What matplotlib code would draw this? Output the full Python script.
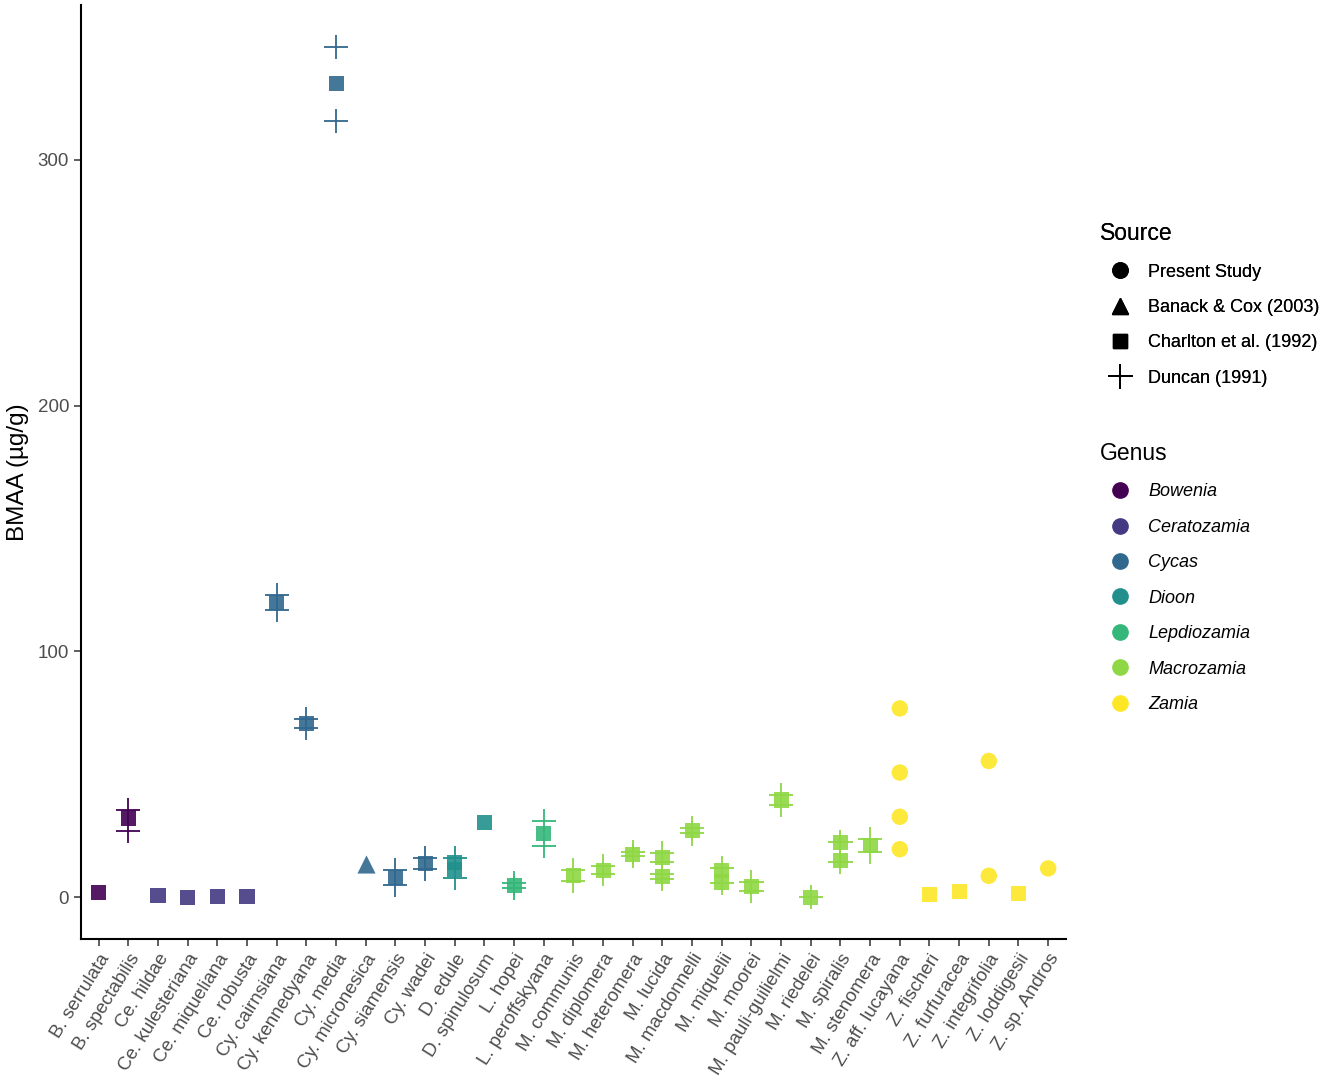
import matplotlib.pyplot as plt
from matplotlib.lines import Line2D

plt.rcParams['font.family'] = ['Liberation Sans', 'DejaVu Sans']

species = ['B. serrulata', 'B. spectabilis', 'Ce. hildae', 'Ce. kulesteriana',
           'Ce. miqueliana', 'Ce. robusta', 'Cy. cairnsiana', 'Cy. kennedyana',
           'Cy. media', 'Cy. micronesica', 'Cy. siamensis', 'Cy. wadei',
           'D. edule', 'D. spinulosum', 'L. hopei', 'L. peroffskyana',
           'M. communis', 'M. diplomera', 'M. heteromera', 'M. lucida',
           'M. macdonnelli', 'M. miquelii', 'M. moorei', 'M. pauli-guilielmi',
           'M. riedelei', 'M. spiralis', 'M. stenomera', 'Z. aff. lucayana',
           'Z. fischeri', 'Z. furfuracea', 'Z. integrifolia', 'Z. loddigesii',
           'Z. sp. Andros']

genera = ['Bowenia', 'Ceratozamia', 'Cycas', 'Dioon', 'Lepdiozamia',
          'Macrozamia', 'Zamia']
genus_colors = ['#440154', '#443A83', '#31688E', '#21908C', '#35B779',
                '#8FD744', '#FDE725']
# genus prefix of each species label
prefix_genus = {'B.': 0, 'Ce.': 1, 'Cy.': 2, 'D.': 3, 'L.': 4, 'M.': 5, 'Z.': 6}

# Present Study
present_sp = ['Z. aff. lucayana'] * 4 + ['Z. integrifolia'] * 2 + ['Z. sp. Andros']
present_val = [76.8, 50.7, 32.7, 19.5, 55.4, 8.7, 11.7]

# Banack & Cox (2003)
banack_sp = ['Cy. micronesica']
banack_val = [13.5]

# Charlton et al. (1992)
charlton_sp = ['B. serrulata', 'B. spectabilis', 'Ce. hildae', 'Ce. kulesteriana',
               'Ce. miqueliana', 'Ce. robusta', 'Cy. cairnsiana', 'Cy. kennedyana',
               'Cy. media', 'Cy. siamensis', 'Cy. wadei', 'D. edule', 'D. edule',
               'D. spinulosum', 'L. hopei', 'L. peroffskyana', 'M. communis',
               'M. diplomera', 'M. heteromera', 'M. lucida', 'M. lucida',
               'M. macdonnelli', 'M. miquelii', 'M. miquelii', 'M. moorei',
               'M. pauli-guilielmi', 'M. riedelei', 'M. spiralis', 'M. spiralis',
               'M. stenomera', 'Z. fischeri', 'Z. furfuracea', 'Z. loddigesii']
charlton_val = [2.0, 32.2, 0.8, 0.0, 0.4, 0.4, 119.8, 70.7, 330.9, 7.9, 13.7,
                14.0, 11.2, 30.4, 4.9, 25.9, 8.8, 11.0, 17.5, 16.1, 8.3, 27.0,
                11.0, 6.2, 4.2, 39.5, 0.0, 22.3, 14.8, 20.9, 1.1, 2.2, 1.5]

# Duncan (1991)
duncan_sp = ['B. spectabilis', 'B. spectabilis', 'Cy. cairnsiana', 'Cy. cairnsiana',
             'Cy. kennedyana', 'Cy. kennedyana', 'Cy. media', 'Cy. media',
             'Cy. siamensis', 'Cy. siamensis', 'Cy. wadei', 'Cy. wadei',
             'D. edule', 'D. edule', 'L. hopei', 'L. hopei',
             'L. peroffskyana', 'L. peroffskyana', 'M. communis', 'M. communis',
             'M. diplomera', 'M. diplomera', 'M. heteromera', 'M. heteromera',
             'M. lucida', 'M. lucida', 'M. lucida', 'M. lucida',
             'M. macdonnelli', 'M. macdonnelli', 'M. miquelii', 'M. miquelii',
             'M. moorei', 'M. moorei', 'M. pauli-guilielmi', 'M. pauli-guilielmi',
             'M. riedelei', 'M. spiralis', 'M. spiralis',
             'M. stenomera', 'M. stenomera']
duncan_val = [35.4, 27.0, 123.0, 117.0, 72.3, 68.9, 346.0, 315.8,
              11.0, 4.9, 16.1, 11.5, 16.1, 7.9, 5.8, 3.9,
              31.0, 20.8, 11.0, 6.4, 12.6, 9.4, 18.2, 16.8,
              18.0, 14.4, 9.6, 7.2, 28.2, 25.9, 11.9, 5.6,
              6.2, 2.4, 41.5, 37.4, 0.0, 22.3, 14.4, 23.6, 18.2]


def xs_cols(sp_list):
    xs = [species.index(s) for s in sp_list]
    cols = [genus_colors[prefix_genus[s.split()[0]]] for s in sp_list]
    return xs, cols


fig = plt.figure(figsize=(13.25, 10.78), dpi=100)
ax = fig.add_axes([0.0611, 0.129, 0.7434, 0.8664])

x, c = xs_cols(duncan_sp)
ax.scatter(x, duncan_val, marker='+', s=300, c=c, linewidths=1.3, zorder=2)
x, c = xs_cols(charlton_sp)
ax.scatter(x, charlton_val, marker='s', s=120, c=c, alpha=0.9, linewidths=0, zorder=3)
x, c = xs_cols(banack_sp)
ax.scatter(x, banack_val, marker='^', s=170, c=c, alpha=0.9, linewidths=0, zorder=3)
x, c = xs_cols(present_sp)
ax.scatter(x, present_val, marker='o', s=140, c=c, alpha=0.9, linewidths=0, zorder=3)

ax.set_xlim(-0.6, 32.6)
ax.set_ylim(-17, 363)
ax.set_yticks([0, 100, 200, 300])
ax.set_xticks(range(len(species)))
ax.set_xticklabels(species, rotation=58, ha='right', rotation_mode='anchor')
ax.tick_params(axis='both', labelsize=13.5, labelcolor='#4D4D4D', length=5,
               width=1.1, color='#333333')
ax.set_ylabel('BMAA (µg/g)', fontsize=17.5, labelpad=6)
for side in ['top', 'right']:
    ax.spines[side].set_visible(False)
for side in ['left', 'bottom']:
    ax.spines[side].set_linewidth(1.5)

source_handles = [
    Line2D([], [], marker='o', ls='', color='black', markersize=11),
    Line2D([], [], marker='^', ls='', color='black', markersize=12),
    Line2D([], [], marker='s', ls='', color='black', markersize=10),
    Line2D([], [], marker='+', ls='', color='black', markersize=18, markeredgewidth=1.3),
]
source_labels = ['Present Study', 'Banack & Cox (2003)', 'Charlton et al. (1992)',
                 'Duncan (1991)']
leg1 = fig.legend(source_handles, source_labels, title='Source', loc='upper left',
                  bbox_to_anchor=(0.8177, 0.809), frameon=False, fontsize=13,
                  title_fontsize=16.5, labelspacing=1.02, handletextpad=0.5,
                  handlelength=2.2, alignment='left')

genus_handles = [Line2D([], [], marker='o', ls='', color=col, markersize=11)
                 for col in genus_colors]
leg2 = fig.legend(genus_handles, genera, title='Genus', loc='upper left',
                  bbox_to_anchor=(0.8177, 0.605), frameon=False,
                  title_fontsize=16.5, labelspacing=1.02, handletextpad=0.5,
                  handlelength=2.2, alignment='left', prop={'size': 13, 'style': 'italic'})
fig.add_artist(leg1)

fig.savefig('out.png', dpi=100)
